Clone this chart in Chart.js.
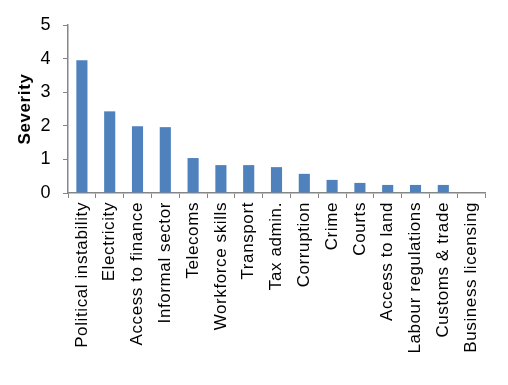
<!DOCTYPE html>
<html>
<head>
<meta charset="utf-8">
<script src="https://cdn.jsdelivr.net/npm/chart.js@4"></script>
<style>
html,body{margin:0;padding:0;background:#fff;}
#wrap{width:508px;height:385px;position:relative;}
</style>
</head>
<body>
<div id="wrap"><canvas id="c" width="508" height="385"></canvas></div>
<script>
const categories = ["Political instability","Electricity","Access to finance","Informal sector","Telecoms","Workforce skills","Transport","Tax admin.","Corruption","Crime","Courts","Access to land","Labour regulations","Customs & trade","Business licensing"];
const severity = [3.95, 2.43, 1.99, 1.96, 1.04, 0.83, 0.83, 0.77, 0.57, 0.39, 0.30, 0.24, 0.24, 0.24, 0];
const yTicks = [0, 1, 2, 3, 4, 5];

const axisColor = '#868686';
const fontFam = '"Liberation Sans", Arial, sans-serif';

const spacingPlugin = {
  id: 'spacing',
  beforeDraw(chart) { chart.ctx.letterSpacing = '0.6px'; }
};

new Chart(document.getElementById('c'), {
  type: 'bar',
  plugins: [spacingPlugin],
  data: {
    labels: categories,
    datasets: [{
      label: 'Severity',
      data: severity,
      backgroundColor: '#4F81BD',
      borderWidth: 0,
      barPercentage: 0.4,
      categoryPercentage: 1.0
    }]
  },
  options: {
    responsive: false,
    animation: false,
    devicePixelRatio: 1,
    layout: { padding: { top: 25, right: 23, left: 0, bottom: 0 } },
    plugins: { legend: { display: false }, tooltip: { enabled: false } },
    scales: {
      x: {
        offset: true,
        grid: { display: true, drawOnChartArea: false, drawTicks: true, tickLength: 5, color: axisColor, offset: true },
        border: { color: axisColor, width: 1.5 },
        ticks: { minRotation: 90, maxRotation: 90, autoSkip: false, padding: 4, color: '#000', font: { family: fontFam, size: 17 } },
        afterFit: (s) => { s.height = 192; }
      },
      y: {
        min: 0, max: 5,
        afterBuildTicks: (s) => { s.ticks = yTicks.map(v => ({ value: v })); },
        grid: { display: true, drawOnChartArea: false, drawTicks: true, tickLength: 5, color: axisColor },
        border: { color: axisColor, width: 1.5 },
        ticks: { padding: 12, color: '#000', font: { family: fontFam, size: 18 } },
        title: { display: true, text: 'Severity', color: '#000', font: { family: fontFam, size: 17, weight: 'bold' }, padding: { top: 15, bottom: 0 } },
        afterFit: (s) => { s.width = 68; }
      }
    }
  }
});
</script>
</body>
</html>
